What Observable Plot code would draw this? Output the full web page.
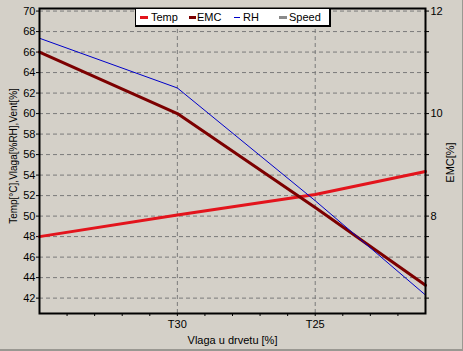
<!DOCTYPE html>
<html>
<head>
<meta charset="utf-8">
<script src="https://cdn.jsdelivr.net/npm/d3@7"></script>
<script src="https://cdn.jsdelivr.net/npm/@observablehq/plot@0.6"></script>
<style>
  html, body { margin: 0; padding: 0; background: #d4d0c8; }
  #wrap { position: relative; width: 463px; height: 351px; overflow: hidden; background: #d4d0c8; }
  #wrap svg { display: block; }
  #edge { position: absolute; left: 0; top: 0; width: 463px; height: 351px; box-sizing: border-box;
          border-right: 1px solid #9a9892; border-bottom: 2px solid #9a9892; pointer-events: none; }
  #legend { position: absolute; left: 135px; top: 8px; width: 193px; height: 16px; background: #fff;
            border: 1px solid #000; border-right-width: 2px; border-bottom-width: 2px;
            font: 11px "Liberation Sans", Arial, sans-serif; color: #000; }
  #legend .sw { position: absolute; top: 7px; height: 3px; }
  #legend .tx { position: absolute; top: 1px; line-height: 14px; }
</style>
</head>
<body>
<div id="wrap"></div>
<script>
// Data
const moisture = [35, 30, 25, 21];          // x positions (Vlaga u drvetu), T35 .. T21
const temp     = [48.0, 50.1, 52.1, 54.35];  // Temp [°C] (left axis)
const emc      = [11.2, 10.0, 8.17, 6.65];   // EMC [%] (right axis)
const rh       = [67.35, 62.5, 51.5, 42.3];  // RH [%] (left axis)
const speed    = [];                         // Speed: no visible line

const leftTicks  = [42, 44, 46, 48, 50, 52, 54, 56, 58, 60, 62, 64, 66, 68, 70];
const rightLabels = [8, 10, 12];
const xTicks     = [34, 33, 32, 31, 30, 29, 28, 27, 26, 25, 24, 23, 22];
const xMajor     = [30, 25];
const xTickLabels = ["T30", "T25"];
const leftTitle  = "Temp[°C],Vlaga[%RH],Vent[%]";
const rightTitle = "EMC[%]";
const xTitle     = "Vlaga u drvetu [%]";

const seriesNames  = ["Temp", "EMC", "RH", "Speed"];
const seriesColors = ["#e3141c", "#7c0000", "#0000c8", "#8a8a8a"];

// right axis (EMC) is linear with the left one: left = (emc + 2) * 5
const toLeft = e => (e + 2) * 5;
const fromLeft = v => v / 5 - 2;

const rows = (vals, name, conv) => moisture.slice(0, vals.length).map((m, i) => ({m, v: conv ? conv(vals[i]) : vals[i], name}));
const tempRows = rows(temp, "Temp");
const emcRows  = rows(emc, "EMC", toLeft);
const rhRows   = rows(rh, "RH");

const chart = Plot.plot({
  width: 463,
  height: 351,
  marginLeft: 39,
  marginRight: 38,
  marginTop: 8,
  marginBottom: 38,
  style: {background: "#d4d0c8", fontFamily: "'Liberation Sans', Arial, sans-serif", fontSize: "11px", color: "#000"},
  x: {domain: [35, 21]},
  y: {domain: [40.5, 70.25]},
  marks: [
    Plot.ruleY(leftTicks, {stroke: "#7a7a7a", strokeDasharray: "4,3", strokeWidth: 1}),
    Plot.ruleX(xMajor, {stroke: "#7a7a7a", strokeDasharray: "4,3", strokeWidth: 1}),
    Plot.axisY({anchor: "left", ticks: leftTicks, tickSize: 3, tickPadding: 1, tickFormat: d => String(d), label: null}),
    Plot.axisY({anchor: "right", ticks: leftTicks, tickSize: 3, tickPadding: 2,
      tickFormat: d => rightLabels.includes(fromLeft(d)) ? String(fromLeft(d)) : "", label: null}),
    Plot.axisX({ticks: xTicks, tickSize: 3, tickPadding: 4,
      tickFormat: d => { const i = xMajor.indexOf(d); return i >= 0 ? xTickLabels[i] : ""; },
      label: xTitle, labelAnchor: "center", labelArrow: "none", labelOffset: 30}),
    Plot.text([leftTitle], {frameAnchor: "left", text: d => d, rotate: -90, dx: -26, dy: -5,
      textAnchor: "middle", fill: "#000", fontSize: 10}),
    Plot.text([rightTitle], {frameAnchor: "right", text: d => d, rotate: -90, dx: 25, dy: 1.5,
      textAnchor: "middle", fill: "#000", fontSize: 11}),
    Plot.line(tempRows, {x: "m", y: "v", stroke: seriesColors[0], strokeWidth: 3}),
    Plot.line(emcRows,  {x: "m", y: "v", stroke: seriesColors[1], strokeWidth: 3}),
    Plot.line(rhRows,   {x: "m", y: "v", stroke: seriesColors[2], strokeWidth: 1}),
    Plot.frame({stroke: "#000", strokeWidth: 2})
  ]
});

const wrap = document.getElementById("wrap");
wrap.appendChild(chart);

// legend
const legend = document.createElement("div");
legend.id = "legend";
const swX = [4, 53, 98, 143], swW = [8, 7, 6, 8], swH = [3, 3, 1, 3], txX = [15, 61, 107, 153];
seriesNames.forEach((n, i) => {
  const sw = document.createElement("span");
  sw.className = "sw";
  sw.style.left = swX[i] + "px"; sw.style.width = swW[i] + "px"; sw.style.height = swH[i] + "px";
  sw.style.top = (swH[i] === 1 ? 8 : 7) + "px";
  sw.style.background = seriesColors[i];
  const tx = document.createElement("span");
  tx.className = "tx";
  tx.style.left = txX[i] + "px";
  tx.textContent = n;
  legend.appendChild(sw); legend.appendChild(tx);
});
wrap.appendChild(legend);
const edge = document.createElement("div");
edge.id = "edge";
wrap.appendChild(edge);
</script>
</body>
</html>
